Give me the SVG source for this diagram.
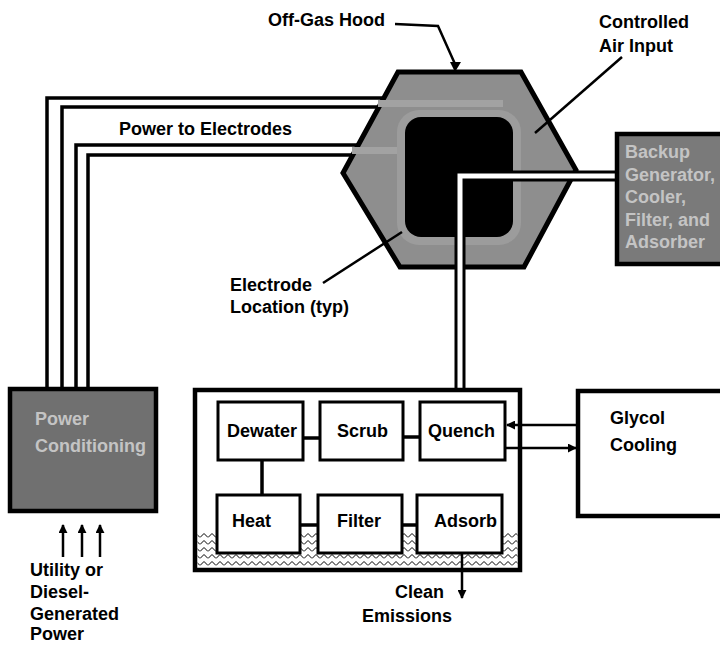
<svg xmlns="http://www.w3.org/2000/svg" width="720" height="645" viewBox="0 0 720 645">
<style>
  text { font-family: "Liberation Sans", Arial, sans-serif; font-weight: bold; font-size: 18px; fill: #000; }
  .light { fill: #c4c4c4; }
  .ln { fill: none; stroke: #000; stroke-width: 3.5; }
  .box { fill: #fff; stroke: #000; stroke-width: 3; }
  .thin { fill: none; stroke: #000; stroke-width: 2.5; }
</style>
<defs>
  <marker id="ah" viewBox="0 0 10 10" refX="9" refY="5" markerWidth="9" markerHeight="9" markerUnits="userSpaceOnUse" orient="auto">
    <path d="M0,0 L10,5 L0,10 Z" fill="#000"/>
  </marker>
  <pattern id="zig" width="8" height="7" patternUnits="userSpaceOnUse">
    <polyline points="0,5.5 4,1.5 8,5.5" fill="none" stroke="#000" stroke-width="1"/>
  </pattern>
</defs>
<rect width="720" height="645" fill="#fff"/>

<g id="connectors">
  <path class="ln" d="M47,390 V98 H390"/>
  <path class="ln" d="M62,390 V107 H385"/>
  <path class="ln" d="M76,390 V145 H365"/>
  <path class="ln" d="M88,390 V155 H360"/>
</g>

<g id="hood">
  <polygon points="398,72 521,72 576,170 524,267 400,267 343,173" fill="#8e8e8e" stroke="#000" stroke-width="5" stroke-linejoin="miter"/>
  <rect x="378" y="100" width="125" height="7" fill="#a2a2a2"/>
  <rect x="352" y="147" width="58" height="7" fill="#a2a2a2"/>
  <rect x="397" y="110" width="124" height="135" rx="22" fill="#9c9c9c"/>
  <rect x="405" y="117" width="108" height="120" rx="16" fill="#000"/>
</g>

<g id="pipes">
  <path d="M460,402 V176 H617" fill="none" stroke="#000" stroke-width="11" stroke-linejoin="miter"/>
  <path d="M460,404 V176 H618" fill="none" stroke="#fff" stroke-width="5" stroke-linejoin="miter"/>
</g>

<g id="backup">
  <rect x="617" y="134" width="110" height="130" fill="#7a7a7a" stroke="#000" stroke-width="4.5"/>
  <text class="light" x="625" y="158">Backup</text>
  <text class="light" x="625" y="181">Generator,</text>
  <text class="light" x="625" y="203">Cooler,</text>
  <text class="light" x="625" y="226">Filter, and</text>
  <text class="light" x="625" y="248">Adsorber</text>
</g>

<g id="power-conditioning">
  <rect x="10" y="389" width="146" height="122" fill="#707070" stroke="#000" stroke-width="4.5"/>
  <text class="light" x="35" y="425">Power</text>
  <text class="light" x="35" y="452">Conditioning</text>
</g>

<g id="utility">
  <line class="thin" x1="63" y1="557" x2="63" y2="525" marker-end="url(#ah)"/>
  <line class="thin" x1="82" y1="557" x2="82" y2="525" marker-end="url(#ah)"/>
  <line class="thin" x1="100" y1="557" x2="100" y2="525" marker-end="url(#ah)"/>
  <text x="30" y="576">Utility or</text>
  <text x="30" y="598">Diesel-</text>
  <text x="30" y="620">Generated</text>
  <text x="30" y="640">Power</text>
</g>

<g id="treatment">
  <rect x="195" y="390" width="325" height="180" fill="#fff" stroke="#000" stroke-width="4.5"/>
  <rect x="197.5" y="531" width="320" height="36.5" fill="url(#zig)"/>
  <g id="links">
    <line class="ln" x1="303" y1="438" x2="320" y2="438" stroke-width="3"/>
    <line class="ln" x1="403" y1="437" x2="420" y2="437" stroke-width="3"/>
    <line class="ln" x1="262" y1="460" x2="262" y2="495" stroke-width="3"/>
    <line class="ln" x1="300" y1="525" x2="318" y2="525" stroke-width="3"/>
    <line class="ln" x1="402" y1="525" x2="417" y2="525" stroke-width="3"/>
  </g>
  <g id="dewater"><rect class="box" x="218" y="402" width="85" height="58"/><text x="227" y="437">Dewater</text></g>
  <g id="scrub"><rect class="box" x="320" y="402" width="83" height="58"/><text x="337" y="437">Scrub</text></g>
  <g id="quench"><rect class="box" x="420" y="402" width="85" height="58"/><text x="428" y="437">Quench</text></g>
  <g id="heat"><rect class="box" x="217" y="495" width="83" height="58"/><text x="232" y="527">Heat</text></g>
  <g id="filter"><rect class="box" x="318" y="495" width="84" height="58"/><text x="337" y="527">Filter</text></g>
  <g id="adsorb"><rect class="box" x="417" y="495" width="85" height="58"/><text x="434" y="527">Adsorb</text></g>
</g>

<g id="glycol">
  <rect x="578" y="391" width="150" height="125" fill="#fff" stroke="#000" stroke-width="4.5"/>
  <text x="610" y="424">Glycol</text>
  <text x="610" y="451">Cooling</text>
</g>

<g id="flows">
  <line class="thin" x1="578" y1="425" x2="507" y2="425" marker-end="url(#ah)"/>
  <line class="thin" x1="505" y1="448" x2="576" y2="448" marker-end="url(#ah)"/>
  <line class="thin" x1="462" y1="553" x2="462" y2="598" stroke-width="2" marker-end="url(#ah)"/>
</g>

<g id="labels">
  <text x="268" y="26">Off-Gas Hood</text>
  <polyline class="thin" points="395,24 438,26 455,64" stroke-width="3"/>
  <path d="M450,62 L455,72 L461,62 Z" fill="#000"/>
  <text x="599" y="28">Controlled</text>
  <text x="599" y="52">Air Input</text>
  <line class="thin" x1="622" y1="57" x2="535" y2="133"/>
  <text x="119" y="135">Power to Electrodes</text>
  <text x="230" y="291">Electrode</text>
  <text x="230" y="313">Location (typ)</text>
  <line class="thin" x1="323" y1="283" x2="402" y2="232" stroke-width="3"/>
  <text x="395" y="598">Clean</text>
  <text x="362" y="622">Emissions</text>
</g>
</svg>
